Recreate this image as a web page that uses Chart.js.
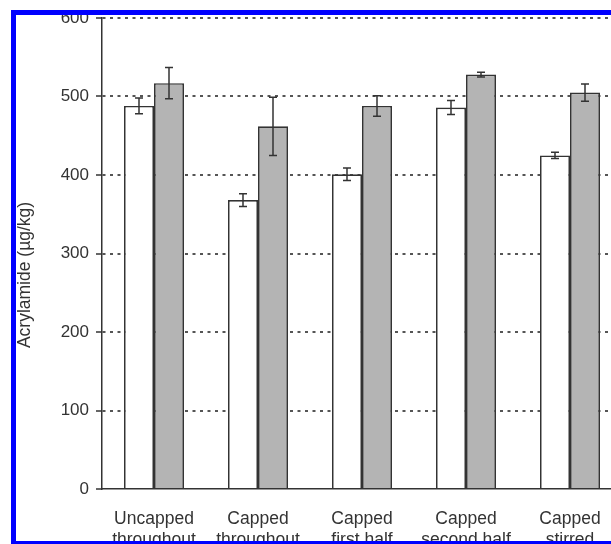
<!DOCTYPE html>
<html>
<head>
<meta charset="utf-8">
<script src="https://cdn.jsdelivr.net/npm/chart.js@4/dist/chart.umd.min.js"></script>
<style>
  html, body { margin: 0; padding: 0; background: #fff; overflow: hidden; width: 611px; height: 544px; }
  #wrap { position: relative; width: 611px; height: 544px; overflow: hidden; }
  #c { position: absolute; left: 0; top: 0; }
  #frame {
    position: absolute; left: 11px; top: 10px; width: 700px; height: 536px;
    box-sizing: border-box; border-left: 5px solid #0000ff; border-top: 5px solid #0000ff;
    border-bottom: 5px solid #0000ff; pointer-events: none;
  }
</style>
</head>
<body>
<div id="wrap">
  <canvas id="c" width="640" height="544"></canvas>
  <div id="frame"></div>
</div>
<script>
// Treatments along the x axis (two-line labels)
const categories = [
  ['Uncapped', 'throughout'],
  ['Capped', 'throughout'],
  ['Capped', 'first half'],
  ['Capped', 'second half'],
  ['Capped', 'stirred']
];
// Acrylamide (µg/kg), open bars and their error bars
const openMeans = [488, 368, 401, 486, 425];
const openErrors = [10, 8, 8, 9, 4];
// Acrylamide (µg/kg), shaded bars and their error bars
const shadedMeans = [517, 462, 488, 528, 505];
const shadedErrors = [20, 37, 13, 3, 11];
// Y axis ticks
const yTicks = [0, 100, 200, 300, 400, 500, 600];
const yTitle = 'Acrylamide (\u00b5g/kg)';

const FONT = '"Liberation Sans", Arial, Helvetica, sans-serif';
const INK = '#333333';

// Draws mean ± error whiskers on every bar, using the y scale
const errorBars = {
  id: 'errorBars',
  afterDatasetsDraw(chart) {
    const ctx = chart.ctx;
    const y = chart.scales.y;
    chart.data.datasets.forEach((ds, di) => {
      const meta = chart.getDatasetMeta(di);
      meta.data.forEach((bar, i) => {
        const v = ds.data[i], e = ds.errors[i];
        const yTop = y.getPixelForValue(v + e);
        const yBot = y.getPixelForValue(v - e);
        const x = bar.x;
        ctx.save();
        ctx.strokeStyle = INK;
        ctx.lineWidth = 1.5;
        ctx.beginPath();
        ctx.moveTo(x, yTop); ctx.lineTo(x, yBot);
        ctx.moveTo(x - 4, yTop); ctx.lineTo(x + 4, yTop);
        ctx.moveTo(x - 4, yBot); ctx.lineTo(x + 4, yBot);
        ctx.stroke();
        ctx.restore();
      });
    });
  }
};

// Rotated y axis title
const yAxisTitle = {
  id: 'yAxisTitle',
  afterDraw(chart) {
    const ctx = chart.ctx;
    ctx.save();
    ctx.translate(25, 275);
    ctx.rotate(-Math.PI / 2);
    ctx.font = '17.5px ' + FONT;
    ctx.fillStyle = INK;
    ctx.textAlign = 'center';
    ctx.textBaseline = 'middle';
    ctx.fillText(yTitle, 0, 0);
    ctx.restore();
  }
};

new Chart(document.getElementById('c'), {
  type: 'bar',
  data: {
    labels: categories,
    datasets: [
      {
        label: 'open',
        data: openMeans,
        errors: openErrors,
        backgroundColor: '#ffffff',
        borderColor: INK,
        borderWidth: 1.7,
        categoryPercentage: 0.577,
        barPercentage: 1.0
      },
      {
        label: 'shaded',
        data: shadedMeans,
        errors: shadedErrors,
        backgroundColor: '#b4b4b4',
        borderColor: INK,
        borderWidth: 1.7,
        categoryPercentage: 0.577,
        barPercentage: 1.0
      }
    ]
  },
  options: {
    responsive: false,
    animation: false,
    layout: { padding: { top: 18, right: 18, left: 0, bottom: 0 } },
    plugins: { legend: { display: false }, tooltip: { enabled: false } },
    scales: {
      x: {
        grid: { display: false },
        border: { display: true, color: INK, width: 1.5 },
        ticks: {
          color: INK, padding: 12, maxRotation: 0, autoSkip: false,
          font: { family: FONT, size: 17.5 }
        },
        afterFit(s) { s.height = 55; }
      },
      y: {
        min: yTicks[0],
        max: yTicks[yTicks.length - 1],
        afterBuildTicks(s) { s.ticks = yTicks.map(v => ({ value: v })); },
        grid: {
          color: c => (c.tick && c.tick.value === 0) ? 'rgba(0,0,0,0)' : '#555555',
          lineWidth: 2,
          tickColor: INK,
          tickWidth: 1.5,
          tickLength: 6,
          tickBorderDash: []
        },
        border: { display: true, color: INK, width: 1.5, dash: [3, 4.5] },
        ticks: {
          color: INK, padding: 7,
          font: { family: FONT, size: 17 }
        },
        afterFit(s) { s.width = 102; }
      }
    }
  },
  plugins: [errorBars, yAxisTitle]
});
</script>
</body>
</html>
